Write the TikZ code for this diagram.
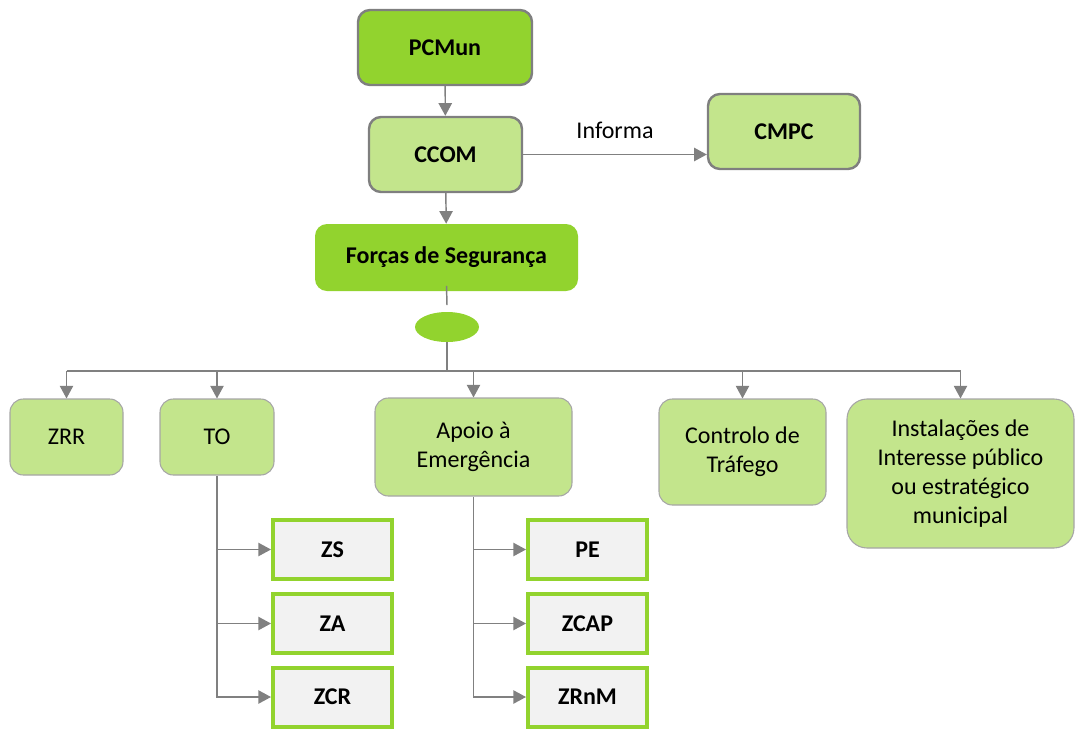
\documentclass[tikz,border=0pt]{standalone}
\usepackage{fontspec}
\setmainfont{Carlito}
\usetikzlibrary{arrows.meta,shapes.geometric}
\definecolor{dgreen}{HTML}{92D32E}
\definecolor{lgreen}{HTML}{C3E58C}
\definecolor{lgrey}{HTML}{F2F2F2}
\definecolor{linegrey}{HTML}{808080}
\definecolor{bordgrey}{HTML}{7F7F7F}
\definecolor{thingrey}{HTML}{A6A6A6}
\tikzset{
  every node/.style={font=\fontsize{18}{21.8}\selectfont, align=center, inner sep=0pt},
  bfont/.style={font=\fontsize{18}{21.8}\selectfont\bfseries},
  topbox/.style={draw=bordgrey, line width=1.8pt, rounded corners=9pt, bfont},
  childbox/.style={draw=thingrey, line width=0.8pt, fill=lgreen, rounded corners=10pt},
  subbox/.style={draw=dgreen, line width=3pt, fill=lgrey, minimum width=89.25pt, minimum height=44.25pt, bfont},
  conn/.style={draw=linegrey, line width=1.1pt, -{Triangle[length=9.5pt,width=10pt]}},
  plain/.style={draw=linegrey, line width=1.1pt}
}
\begin{document}
\begin{tikzpicture}[x=0.75pt,y=-0.75pt]
\useasboundingbox (0,0) rectangle (1075,729);
% top
\node[topbox, fill=dgreen, minimum width=130.5pt, minimum height=56.25pt] (pcmun) at (445,47.5) {PCMun};
\node[topbox, fill=lgreen, minimum width=114.75pt, minimum height=56.25pt] (ccom) at (445.5,154.5) {CCOM};
\node[topbox, fill=lgreen, minimum width=114pt, minimum height=56.25pt] (cmpc) at (784,131.5) {CMPC};
\node[fill=dgreen, rounded corners=9pt, minimum width=197.25pt, minimum height=50.25pt, bfont] (fs) at (446.5,257.5) {Forças de Segurança};
\node[ellipse, fill=dgreen, minimum width=48pt, minimum height=22.5pt] (el) at (447,327) {};
\coordinate (bus) at (447,371);
% children
\node[childbox, minimum width=84.75pt, minimum height=57pt] (zrr) at (66.5,437) {ZRR};
\node[childbox, minimum width=85.5pt, minimum height=57pt] (to) at (217,437) {TO};
\node[childbox, minimum width=147.75pt, minimum height=73.5pt] (apoio) at (473.5,447) {Apoio à\\Emergência};
\node[childbox, minimum width=125.25pt, minimum height=79.5pt] (ctrl) at (742.5,452) {Controlo de\\Tráfego};
\node[childbox, rounded corners=15pt, minimum width=170.25pt, minimum height=111.75pt] (inst) at (960.5,473.5) {Instalações de\\Interesse público\\ou estratégico\\municipal};
% sub boxes
\node[subbox] (zs) at (332.5,549.5) {ZS};
\node[subbox] (za) at (332.5,623.5) {ZA};
\node[subbox] (zcr) at (332.5,697) {ZCR};
\node[subbox] (pe) at (587.5,549.5) {PE};
\node[subbox] (zcap) at (587.5,623.5) {ZCAP};
\node[subbox] (zrnm) at (587.5,697) {ZRnM};
% connectors
\draw[conn] (pcmun) -- (ccom);
\draw[conn] (ccom.east) -- node[above=11pt, midway] (inf) {Informa} (cmpc.west |- ccom.east);
\draw[conn] (ccom) -- (fs);
\draw[plain] ([yshift=4pt]fs.south) -- ([yshift=5pt]el.north);
\draw[plain] (el.south) -- (bus);
\draw[plain] (zrr.north |- bus) -- (inst.north |- bus);
\foreach \n in {zrr,to,apoio,ctrl,inst}{
  \draw[conn] (\n.north |- bus) -- (\n.north);
}
\draw[conn] (to.south) |- (zcr.west);
\draw[conn] (to.south |- zs.west) -- (zs.west);
\draw[conn] (to.south |- za.west) -- (za.west);
\draw[conn] (apoio.south) |- (zrnm.west);
\draw[conn] (apoio.south |- pe.west) -- (pe.west);
\draw[conn] (apoio.south |- zcap.west) -- (zcap.west);
\end{tikzpicture}
\end{document}
